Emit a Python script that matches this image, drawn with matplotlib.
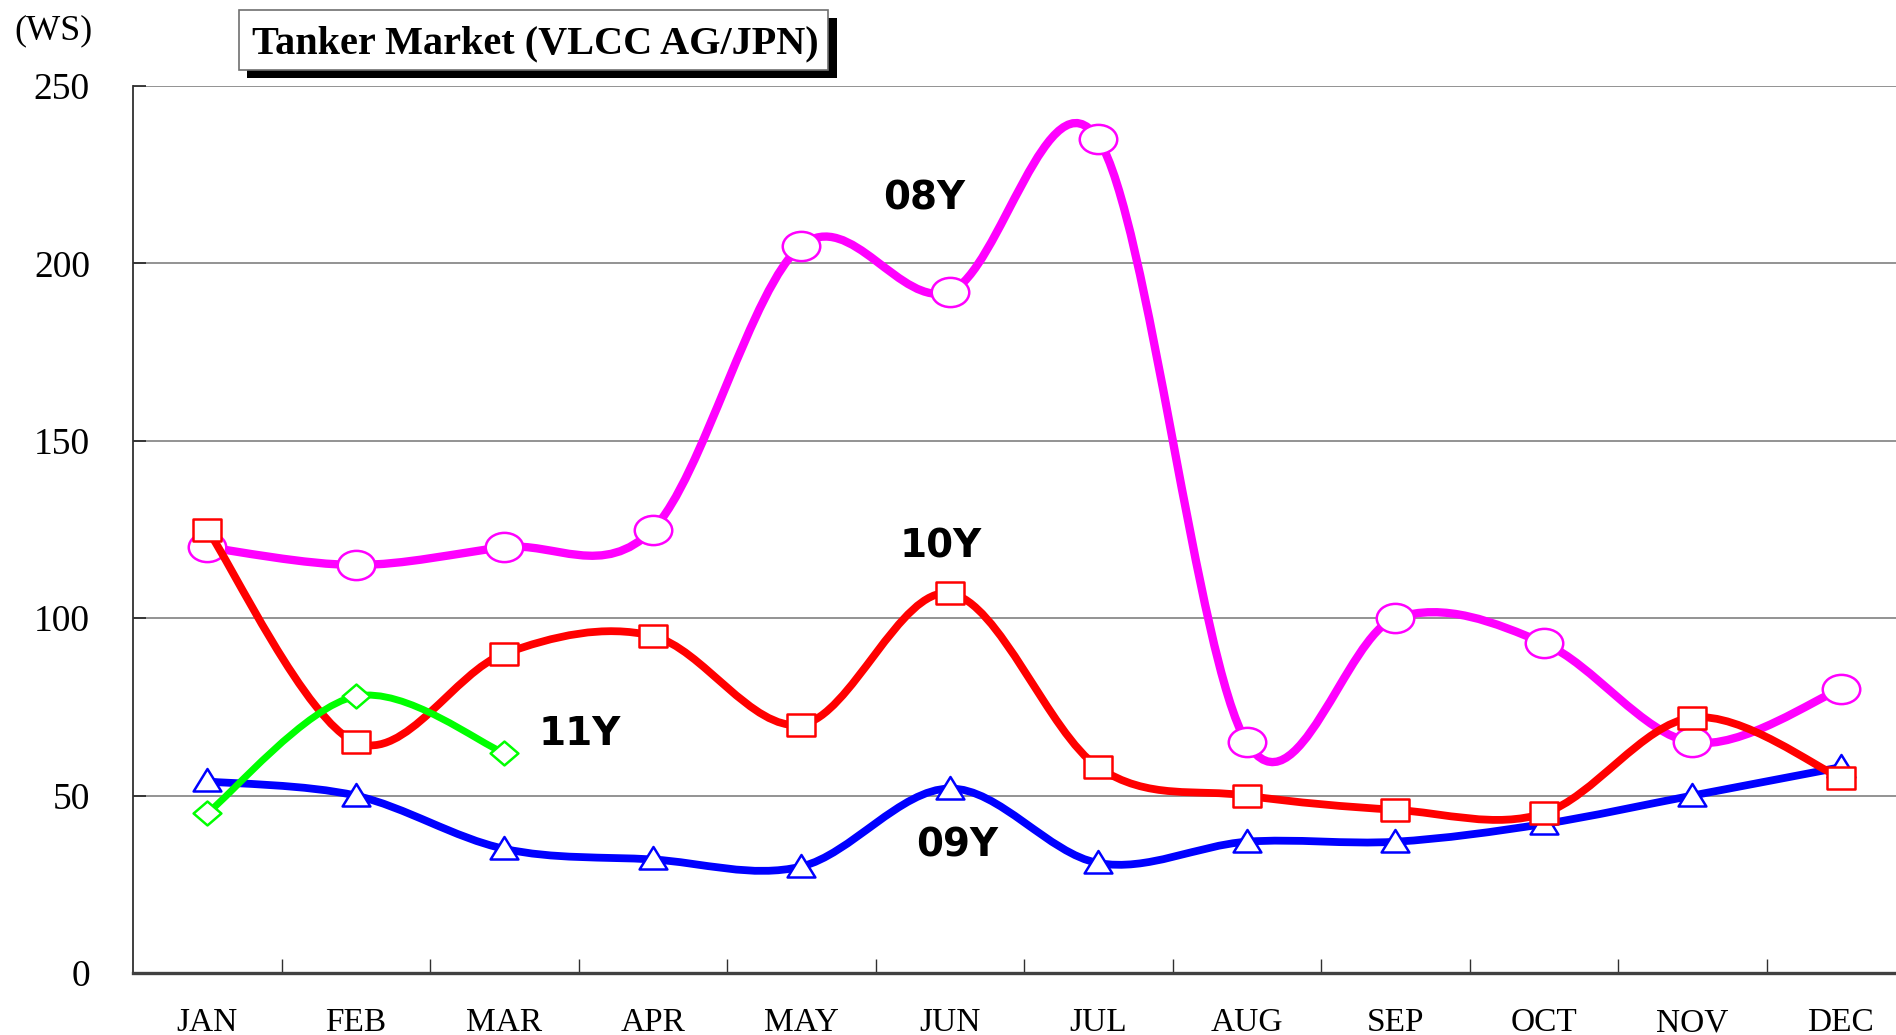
import numpy as np
import matplotlib
matplotlib.use("Agg")
import matplotlib.pyplot as plt
from matplotlib.path import Path
from matplotlib.patches import PathPatch, Rectangle
from matplotlib.markers import MarkerStyle

# ---------------- data ----------------
months = ["JAN", "FEB", "MAR", "APR", "MAY", "JUN",
          "JUL", "AUG", "SEP", "OCT", "NOV", "DEC"]
ws_08 = [120, 115, 120, 125, 205, 192, 235, 65, 100, 93, 65, 80]
ws_09 = [54, 50, 35, 32, 30, 52, 31, 37, 37, 42, 50, 58]
ws_10 = [125, 65, 90, 95, 70, 107, 58, 50, 46, 45, 72, 55]
ws_11 = [45, 78, 62]
yticks = [0, 50, 100, 150, 200, 250]

W, H = 1896, 1035
fig = plt.figure(figsize=(W / 100, H / 100), dpi=100)
fig.patch.set_facecolor("white")

# axes geometry (pixels)
ax_left, ax_top, ax_bottom = 133, 86, 973
cat_w = 148.5
ax = fig.add_axes([ax_left / W, (H - ax_bottom) / H, (W - ax_left) / W, (ax_bottom - ax_top) / H])
ax.set_xlim(-0.5, -0.5 + (W - ax_left) / cat_w)
ax.set_ylim(0, 250)

serif = ["Liberation Serif", "DejaVu Serif"]
sans = ["DejaVu Sans"]

# grid
for v in yticks[1:]:
    ax.axhline(v, color="#808080", lw=1.2, zorder=1)
for s in ["top", "right"]:
    ax.spines[s].set_visible(False)
ax.spines["left"].set_color("#303030")
ax.spines["left"].set_linewidth(1.3)
ax.spines["bottom"].set_color("#404040")
ax.spines["bottom"].set_linewidth(2.4)

ax.set_yticks(yticks)
ax.set_yticklabels([str(v) for v in yticks], fontfamily=serif, fontsize=27)
ax.tick_params(axis="y", direction="in", length=9, width=1.3, color="#303030", pad=31)

ax.set_xticks(range(12))
ax.set_xticklabels(months, fontfamily=serif, fontsize=24)
ax.set_xticks(np.arange(0.5, 11, 1.0), minor=True)
ax.tick_params(axis="x", which="major", length=0, pad=25)
ax.tick_params(axis="x", which="minor", direction="in", length=10, width=1.0, color="#303030")


def smooth_path(xs, ys, t=1.0 / 6):
    pts = np.column_stack([xs, ys]).astype(float)
    n = len(pts)
    verts = [pts[0]]
    codes = [Path.MOVETO]
    for i in range(n - 1):
        p0 = pts[max(i - 1, 0)]
        p1 = pts[i]
        p2 = pts[i + 1]
        p3 = pts[min(i + 2, n - 1)]
        c1 = p1 + (p2 - p0) * t
        c2 = p2 - (p3 - p1) * t
        verts += [c1, c2, p2]
        codes += [Path.CURVE4] * 3
    return Path(verts, codes)


def mk(verts):
    verts = list(verts) + [verts[0]]
    codes = [Path.MOVETO] + [Path.LINETO] * (len(verts) - 2) + [Path.CLOSEPOLY]
    return MarkerStyle(Path(verts, codes))


circ = Path.unit_circle()
ellipse = MarkerStyle(Path(circ.vertices * np.array([1.0, 0.78]), circ.codes))
square = mk([(-0.5, -0.4), (0.5, -0.4), (0.5, 0.4), (-0.5, 0.4)])
triangle = mk([(-0.5, -0.36), (0.5, -0.36), (0.0, 0.45)])
diamond = mk([(-0.5, 0), (0, -0.43), (0.5, 0), (0, 0.43)])

series = [
    (ws_08, "#FF00FF", ellipse, 27, 6.0),
    (ws_09, "#0000FF", triangle, 20, 5.6),
    (ws_10, "#FF0000", square, 19.5, 5.6),
    (ws_11, "#00FF00", diamond, 20, 5.0),
]
z = 3
for vals, col, mkr, ms, lw in series:
    xs = np.arange(len(vals))
    patch = PathPatch(smooth_path(xs, vals), facecolor="none", edgecolor=col, lw=lw,
                      joinstyle="round", capstyle="round", zorder=z, clip_on=False)
    ax.add_patch(patch)
    ax.plot(xs, vals, linestyle="none", marker=mkr, markersize=ms, markerfacecolor="white",
            markeredgecolor=col, markeredgewidth=1.8, zorder=z + 0.5, clip_on=False)
    z += 1

# series labels
lab_kw = dict(fontfamily=sans, fontsize=28, fontweight="bold", ha="center", va="center", zorder=10)
ax.text(4.83, 218.4, "08Y", **lab_kw)
ax.text(4.94, 120.1, "10Y", **lab_kw)
ax.text(2.51, 67.4, "11Y", **lab_kw)
ax.text(5.05, 35.8, "09Y", **lab_kw)

# unit label
fig.text(53 / W, 1 - 31 / H, "(WS)", fontfamily=serif, fontsize=26, ha="center", va="center")

# title box with shadow
def px_rect(x0, y0, x1, y1, **kw):
    return Rectangle((x0 / W, 1 - y1 / H), (x1 - x0) / W, (y1 - y0) / H,
                     transform=fig.transFigure, **kw)

fig.patches.append(px_rect(247, 18, 837, 78, facecolor="black", edgecolor="none", zorder=5))
fig.patches.append(px_rect(239, 10, 828, 70, facecolor="white", edgecolor="#707070", lw=1.2, zorder=6))
fig.text(535 / W, 1 - 53 / H, "Tanker Market (VLCC AG/JPN)", fontfamily=serif, fontsize=29,
         fontweight="bold", ha="center", va="baseline", zorder=7)

fig.savefig("out.png", dpi=100, facecolor="white")
